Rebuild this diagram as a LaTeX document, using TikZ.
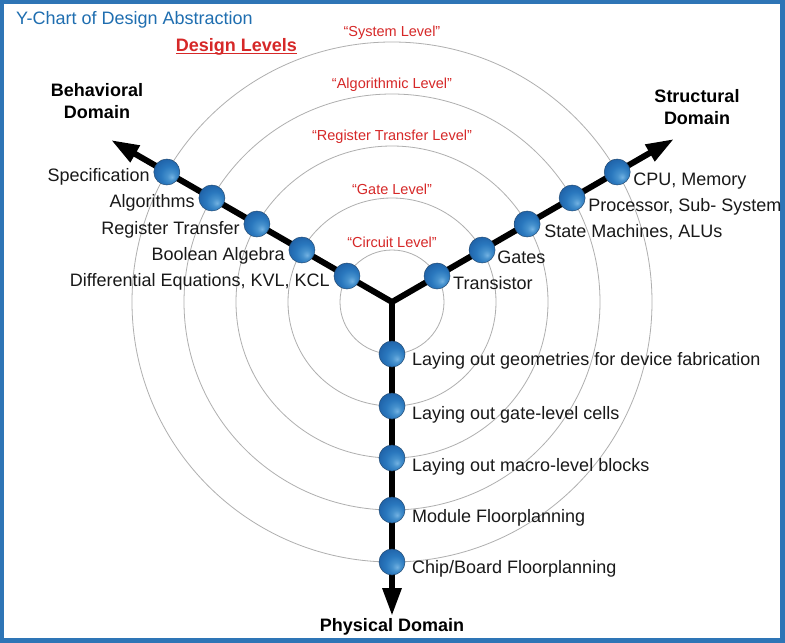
\documentclass[tikz,border=0pt]{standalone}
\usepackage{fontspec}
\setmainfont{Liberation Sans}
\usetikzlibrary{arrows.meta,calc}
\definecolor{frameblue}{RGB}{46,117,182}
\definecolor{titleblue}{RGB}{31,110,176}
\definecolor{levelred}{RGB}{214,40,40}
\definecolor{ringgray}{RGB}{175,175,175}
\definecolor{ballA}{RGB}{115,178,226}
\definecolor{ballB}{RGB}{70,145,205}
\definecolor{ballC}{RGB}{42,120,190}
\definecolor{ballD}{RGB}{32,100,170}
\definecolor{ballE}{RGB}{25,85,150}
\definecolor{ballEdge}{RGB}{35,75,115}
\pgfdeclareradialshading{yball}{\pgfqpoint{10bp}{-10bp}}{color(0bp)=(ballA); color(8bp)=(ballB); color(18bp)=(ballC); color(30bp)=(ballD); color(40bp)=(ballE); color(50bp)=(ballE)}
\begin{document}
\begin{tikzpicture}[x=1pt,y=-1pt,
  ring/.style={draw=ringgray, line width=0.8pt},
  arm/.style={line width=6pt, line join=miter, >={Triangle[length=28pt,width=18pt]}},
  ball/.style={circle, minimum size=26pt, inner sep=0pt, shade, shading=yball, draw=ballEdge, line width=0.5pt},
  lab/.style={inner sep=0pt, font=\fontsize{18}{22}\selectfont, text=black!90},
  lvl/.style={inner sep=0pt, font=\fontsize{14.5}{17}\selectfont, text=levelred},
  dom/.style={inner sep=0pt, font=\fontsize{18}{22}\selectfont\bfseries, align=center},
]
\useasboundingbox (0,0) rectangle (785,643);
\fill[white] (0,0) rectangle (785,643);
\draw[frameblue, line width=4.5pt] (2.2,2.2) rectangle (782.5,640.5);

\coordinate (c) at (392,302);
\foreach \r in {52,104,156,208,260} \draw[ring] (c) circle[radius=\r pt];

% level labels
\node[lvl] (l5) at (392,33) {“System Level”};
\node[lvl] (l4) at (392,85) {“Algorithmic Level”};
\node[lvl] (l3) at (392,137) {“Register Transfer Level”};
\node[lvl] (l2) at (392,189) {“Gate Level”};
\node[lvl] (l1) at (392,242) {“Circuit Level”};

% arms
\coordinate (bt) at (111,140);
\coordinate (st) at (674,139);
\coordinate (ptip) at (392,616);
\draw[arm, <->] (bt) -- (c) -- (st);
\draw[arm, ->] (c) -- (ptip);

% balls
\node[ball] (b1) at (346.97,276) {};
\node[ball] (b2) at (301.93,250) {};
\node[ball] (b3) at (256.9,224) {};
\node[ball] (b4) at (211.9,198) {};
\node[ball] (b5) at (166.8,172) {};
\node[ball] (s1) at (437.03,276) {};
\node[ball] (s2) at (482.07,250) {};
\node[ball] (s3) at (527.1,224) {};
\node[ball] (s4) at (572.1,198) {};
\node[ball] (s5) at (617.2,172) {};
\node[ball] (p1) at (392,354) {};
\node[ball] (p2) at (392,406) {};
\node[ball] (p3) at (392,458) {};
\node[ball] (p4) at (392,510) {};
\node[ball] (p5) at (392,562) {};

% behavioral labels
\node[lab, anchor=mid east] (tb5) at ($(b5)+(-17,7)$) {Specification};
\node[lab, anchor=mid east] (tb4) at ($(b4)+(-17,7)$) {Algorithms};
\node[lab, anchor=mid east] (tb3) at ($(b3)+(-17,8)$) {Register Transfer};
\node[lab, anchor=mid east] (tb2) at ($(b2)+(-17,8)$) {Boolean Algebra};
\node[lab, anchor=mid east] (tb1) at ($(b1)+(-17,8)$) {Differential Equations, KVL, KCL};

% structural labels
\node[lab, anchor=mid west] (ts5) at ($(s5)+(16,11)$) {CPU, Memory};
\node[lab, anchor=mid west] (ts4) at ($(s4)+(16,11)$) {Processor, Sub- System};
\node[lab, anchor=mid west] (ts3) at ($(s3)+(17,11)$) {State Machines, ALUs};
\node[lab, anchor=mid west] (ts2) at ($(s2)+(15,11)$) {Gates};
\node[lab, anchor=mid west] (ts1) at ($(s1)+(16,11)$) {Transistor};

% physical labels
\node[lab, anchor=mid west] (tp1) at ($(p1)+(20,9)$) {Laying out geometries for device fabrication};
\node[lab, anchor=mid west] (tp2) at ($(p2)+(20,11)$) {Laying out gate-level cells};
\node[lab, anchor=mid west] (tp3) at ($(p3)+(20,11)$) {Laying out macro-level blocks};
\node[lab, anchor=mid west] (tp4) at ($(p4)+(20,10)$) {Module Floorplanning};
\node[lab, anchor=mid west] (tp5) at ($(p5)+(20,9)$) {Chip/Board Floorplanning};

% domains
\node[dom] (bd) at (97,101) {Behavioral\\Domain};
\node[dom] (sd) at (697,107) {Structural\\Domain};
\node[dom] (pd) at (392,627) {Physical Domain};

% title and heading
\node[inner sep=0pt, anchor=mid west, font=\fontsize{18}{22}\selectfont, text=titleblue] (title) at (16,21.5) {Y-Chart of Design Abstraction};
\node[inner sep=0pt, font=\fontsize{18}{22}\selectfont\bfseries, text=levelred] (dl) at (236.5,47) {Design Levels};
\draw[levelred, line width=1.4pt] ([yshift=-2pt]dl.base west) -- ([yshift=-2pt]dl.base east);
\end{tikzpicture}
\end{document}
